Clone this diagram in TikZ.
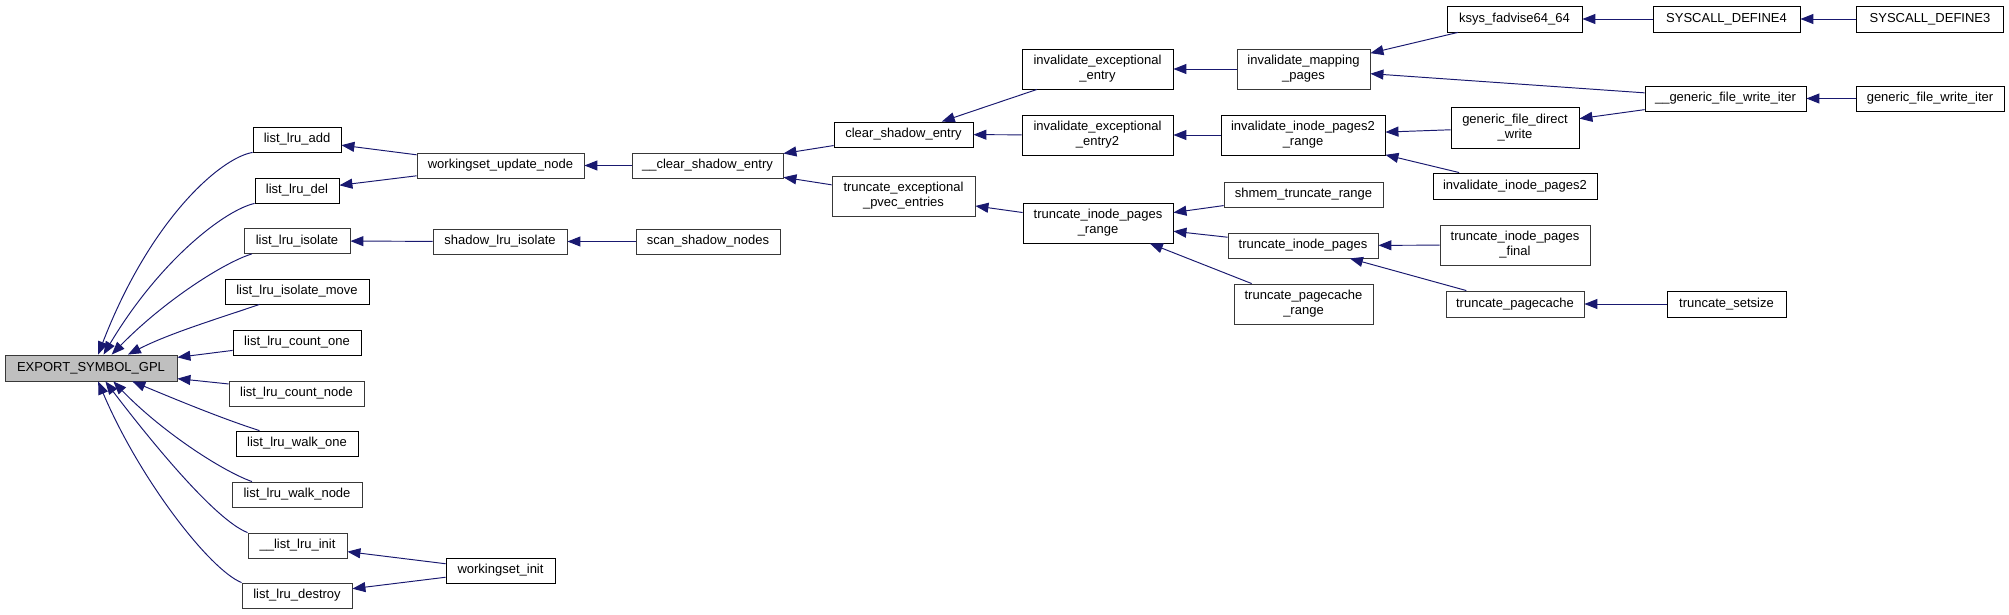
\documentclass[tikz,border=0pt]{standalone}
\usepackage{fontspec}
\setmainfont{Liberation Sans}
\usetikzlibrary{arrows.meta}
\definecolor{edgeblue}{RGB}{25,25,112}
\definecolor{rootgray}{RGB}{191,191,191}

\begin{document}
\begin{tikzpicture}[x=0.02cm, y=-0.02cm,
  fn/.style={draw=black, line width=0.5pt, fill=white, inner sep=0pt, minimum height=0.5cm, align=center, font=\fontsize{7.4}{8.5}\selectfont},
  fng/.style={fn, draw=black!78},
  call/.style={-{Triangle[length=0.26cm, width=0.2cm]}, edgeblue, line width=0.55pt}]
\fill[white] (0,0) rectangle (2009,615);
\useasboundingbox (0,0) rectangle (2009,615);

% Nodes
\node[fng, fill=rootgray, minimum width=3.44cm, minimum height=0.52cm] (export) at (91,368) {EXPORT\_SYMBOL\_GPL};

\node[fn, minimum width=1.76cm] (add) at (297,139.5) {list\_lru\_add};
\node[fn, minimum width=1.68cm] (del) at (297,190.5) {list\_lru\_del};
\node[fng, minimum width=2.12cm] (isolate) at (297,241) {list\_lru\_isolate};
\node[fn, minimum width=2.88cm] (isomove) at (297,291.5) {list\_lru\_isolate\_move};
\node[fn, minimum width=2.56cm] (countone) at (297,342.5) {list\_lru\_count\_one};
\node[fng, minimum width=2.7cm] (countnode) at (296.5,393.5) {list\_lru\_count\_node};
\node[fn, minimum width=2.44cm] (walkone) at (297,443.5) {list\_lru\_walk\_one};
\node[fng, minimum width=2.6cm] (walknode) at (297,494.5) {list\_lru\_walk\_node};
\node[fng, minimum width=1.98cm] (init) at (297.5,545.5) {\_\_list\_lru\_init};
\node[fng, minimum width=2.2cm] (destroy) at (297,595.5) {list\_lru\_destroy};

\node[fng, minimum width=3.34cm] (update) at (500.5,165.5) {workingset\_update\_node};
\node[fng, minimum width=2.68cm] (shadowiso) at (500,241.5) {shadow\_lru\_isolate};
\node[fn, minimum width=2.18cm] (wsinit) at (500.5,570.5) {workingset\_init};

\node[fng, minimum width=3.02cm] (clearx) at (707.5,165.5) {\_\_clear\_shadow\_entry};
\node[fng, minimum width=2.88cm] (scan) at (708,241.5) {scan\_shadow\_nodes};

\node[fn, minimum width=2.78cm] (clear) at (903.5,134.5) {clear\_shadow\_entry};
\node[fng, minimum width=2.86cm, minimum height=0.8cm] (truncpvec) at (903.5,196) {truncate\_exceptional\\\_pvec\_entries};

\node[fn, minimum width=3.02cm, minimum height=0.8cm] (invexc) at (1097.5,69) {invalidate\_exceptional\\\_entry};
\node[fn, minimum width=3.02cm, minimum height=0.8cm] (invexc2) at (1097.5,135) {invalidate\_exceptional\\\_entry2};
\node[fn, minimum width=3cm, minimum height=0.8cm] (truncrange) at (1098,223) {truncate\_inode\_pages\\\_range};

\node[fng, minimum width=2.66cm, minimum height=0.8cm] (invmap) at (1303.5,69) {invalidate\_mapping\\\_pages};
\node[fn, minimum width=3.28cm, minimum height=0.8cm] (inv2range) at (1303,135) {invalidate\_inode\_pages2\\\_range};
\node[fng, minimum width=3.18cm] (shmem) at (1303.5,194.5) {shmem\_truncate\_range};
\node[fng, minimum width=3cm] (truncpages) at (1303,245.5) {truncate\_inode\_pages};
\node[fng, minimum width=2.78cm, minimum height=0.8cm] (pcrange) at (1303.5,304) {truncate\_pagecache\\\_range};

\node[fn, minimum width=2.7cm, minimum height=0.52cm] (ksys) at (1514.5,19) {ksys\_fadvise64\_64};
\node[fn, minimum width=2.56cm, minimum height=0.82cm] (directw) at (1515,127.5) {generic\_file\_direct\\\_write};
\node[fn, minimum width=3.28cm, minimum height=0.52cm] (inv2) at (1515,186) {invalidate\_inode\_pages2};
\node[fng, minimum width=3cm, minimum height=0.8cm] (final) at (1515,245) {truncate\_inode\_pages\\\_final};
\node[fng, minimum width=2.76cm, minimum height=0.52cm] (pagecache) at (1515,304) {truncate\_pagecache};

\node[fn, minimum width=2.94cm, minimum height=0.52cm] (sys4) at (1726.5,19) {SYSCALL\_DEFINE4};
\node[fn, minimum width=3.22cm] (gfwix) at (1725.5,98.5) {\_\_generic\_file\_write\_iter};
\node[fn, minimum width=2.38cm, minimum height=0.52cm] (setsize) at (1726.5,304) {truncate\_setsize};

\node[fn, minimum width=2.94cm, minimum height=0.52cm] (sys3) at (1930,19) {SYSCALL\_DEFINE3};
\node[fn, minimum width=2.96cm] (gfwi) at (1930,98.5) {generic\_file\_write\_iter};

% Arrows into EXPORT_SYMBOL_GPL
\draw[call] (add.south west) .. controls (220,158) and (150,220) .. (export.62);
\draw[call] (del.south west) .. controls (225,210) and (160,260) .. (export.47);
\draw[call] (isolate.196) .. controls (225,262) and (165,300) .. (export.33);
\draw[call] (isomove.199) .. controls (220,318) and (170,333) .. (export.20);
\draw[call] (countone.187) -- (export.7);
\draw[call] (countnode.172) -- (export.-7);
\draw[call] (walkone.161) .. controls (220,418) and (170,397) .. (export.-18);
\draw[call] (walknode.164) .. controls (220,470) and (160,430) .. (export.-31);
\draw[call] (init.north west) .. controls (215,520) and (150,440) .. (export.-43);
\draw[call] (destroy.north west) .. controls (210,570) and (140,480) .. (export.-62);

% Arrows
\draw[call] (update) -- (add);
\draw[call] (update) -- (del);
\draw[call] (shadowiso) -- (isolate);
\draw[call] (wsinit) -- (init);
\draw[call] (wsinit) -- (destroy);
\draw[call] (clearx) -- (update);
\draw[call] (scan) -- (shadowiso);
\draw[call] (clear) -- (clearx);
\draw[call] (truncpvec) -- (clearx);
\draw[call] (invexc) -- (clear);
\draw[call] (invexc2) -- (clear);
\draw[call] (truncrange) -- (truncpvec);
\draw[call] (invmap) -- (invexc);
\draw[call] (inv2range) -- (invexc2);
\draw[call] (shmem) -- (truncrange);
\draw[call] (truncpages) -- (truncrange);
\draw[call] (pcrange) -- (truncrange);
\draw[call] (ksys) -- (invmap);
\draw[call] (gfwix) -- (invmap);
\draw[call] (directw) -- (inv2range);
\draw[call] (inv2) -- (inv2range);
\draw[call] (final) -- (truncpages);
\draw[call] (pagecache) -- (truncpages);
\draw[call] (sys4) -- (ksys);
\draw[call] (sys3) -- (sys4);
\draw[call] (gfwix) -- (directw);
\draw[call] (gfwi) -- (gfwix);
\draw[call] (setsize) -- (pagecache);
\end{tikzpicture}
\end{document}
